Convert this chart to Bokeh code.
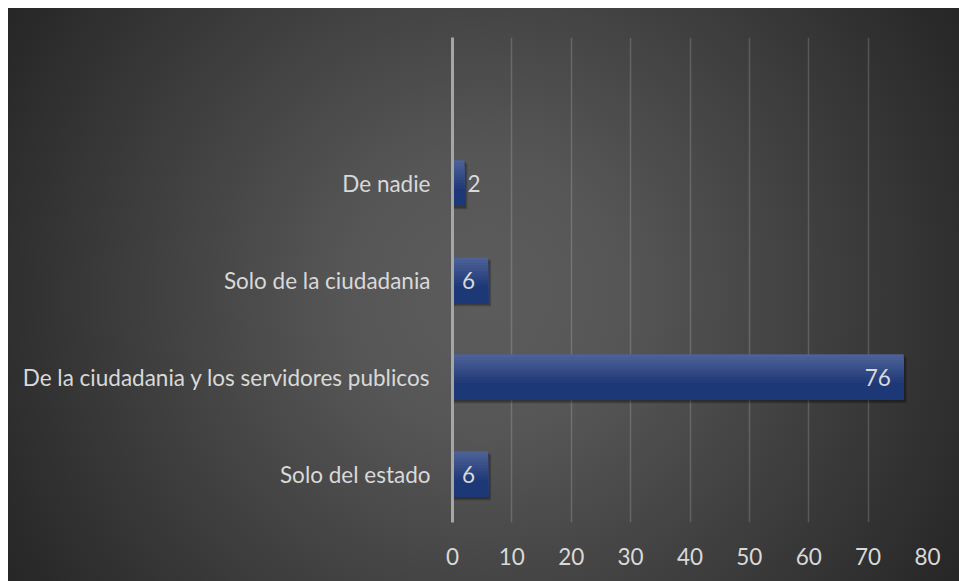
from bokeh.plotting import figure
from bokeh.models import FixedTicker, ColumnDataSource
from bokeh.embed import file_html
from bokeh.resources import INLINE
from bokeh.core.properties import value

categories = ["Solo del estado", "De la ciudadania y los servidores publicos",
              "Solo de la ciudadania", "De nadie"]
counts = [6, 76, 6, 2]
x_ticks = [0, 10, 20, 30, 40, 50, 60, 70, 80]

ypos = [i + 0.5 for i in range(len(categories))]
BAR_H = 0.47
FONT = "Lato"
FS = "22.5px"
TXT = "#d9d9d9"

p = figure(width=951, height=573, x_range=(0, 80), y_range=(0, 5),
           output_backend="svg", toolbar_location=None,
           min_border_left=444, min_border_right=32,
           min_border_top=29, min_border_bottom=59)
p.margin = (8, 0, 0, 8)
p.styles = {"background": "radial-gradient(circle farthest-corner at 50% 50%, #5c5c5c 0%, #565656 25%, #262626 100%)"}
p.border_fill_alpha = 0
p.background_fill_alpha = 0
p.outline_line_color = None

# grid
p.xgrid.ticker = FixedTicker(ticks=x_ticks)
p.xgrid.grid_line_color = "white"
p.xgrid.grid_line_alpha = 0.17
p.xgrid.grid_line_width = 1.5
p.ygrid.grid_line_color = None

# shadow
p.hbar(y=[y - 0.035 for y in ypos], height=BAR_H, left=0,
       right=[c + 0.5 for c in counts], fill_color="black", fill_alpha=0.22, line_color=None)
p.hbar(y=[y - 0.02 for y in ypos], height=BAR_H, left=0,
       right=[c + 0.25 for c in counts], fill_color="black", fill_alpha=0.22, line_color=None)

# bars with vertical gradient (overlapping slices, top to bottom)
top = (0x4d, 0x61, 0x97)
bot = (0x1d, 0x38, 0x76)
n = 16
for i in range(n):
    t = i / (n - 1)
    tt = min(1.0, t * 1.5)
    col = tuple(int(round(top[k] + (bot[k] - top[k]) * tt)) for k in range(3))
    hex_col = "#%02x%02x%02x" % col
    h = BAR_H * (n - i) / n
    yc = [y - BAR_H / 2 + h / 2 for y in ypos]
    p.hbar(y=yc, height=h, left=0, right=counts,
           fill_color=hex_col, line_color=None)

# value labels
src_in = ColumnDataSource(dict(x=[c for c in counts if c >= 4],
                               y=[y for y, c in zip(ypos, counts) if c >= 4],
                               t=[str(c) for c in counts if c >= 4]))
src_out = ColumnDataSource(dict(x=[c for c in counts if c < 4],
                                y=[y for y, c in zip(ypos, counts) if c < 4],
                                t=[str(c) for c in counts if c < 4]))
p.text(x="x", y="y", text="t", source=src_in, text_align="right", text_baseline="middle",
       x_offset=-13, text_color=TXT, text_font=value(FONT), text_font_size=FS)
p.text(x="x", y="y", text="t", source=src_out, text_align="left", text_baseline="middle",
       x_offset=3, text_color=TXT, text_font=value(FONT), text_font_size=FS)

# axes
p.yaxis.ticker = FixedTicker(ticks=ypos)
p.yaxis.major_label_overrides = {y: c for y, c in zip(ypos, categories)}
p.yaxis.axis_line_color = "#a6a6a6"
p.yaxis.axis_line_width = 3
p.yaxis.major_tick_line_color = None
p.yaxis.minor_tick_line_color = None
p.yaxis.major_label_standoff = 16
p.yaxis.major_label_text_color = TXT
p.yaxis.major_label_text_font = FONT
p.yaxis.major_label_text_font_size = FS

p.xaxis.ticker = FixedTicker(ticks=x_ticks)
p.xaxis.axis_line_color = None
p.xaxis.major_tick_line_color = None
p.xaxis.minor_tick_line_color = None
p.xaxis.major_label_standoff = 19
p.xaxis.major_label_text_color = TXT
p.xaxis.major_label_text_font = FONT
p.xaxis.major_label_text_font_size = FS

open("out.html", "w").write(file_html(p, INLINE))
